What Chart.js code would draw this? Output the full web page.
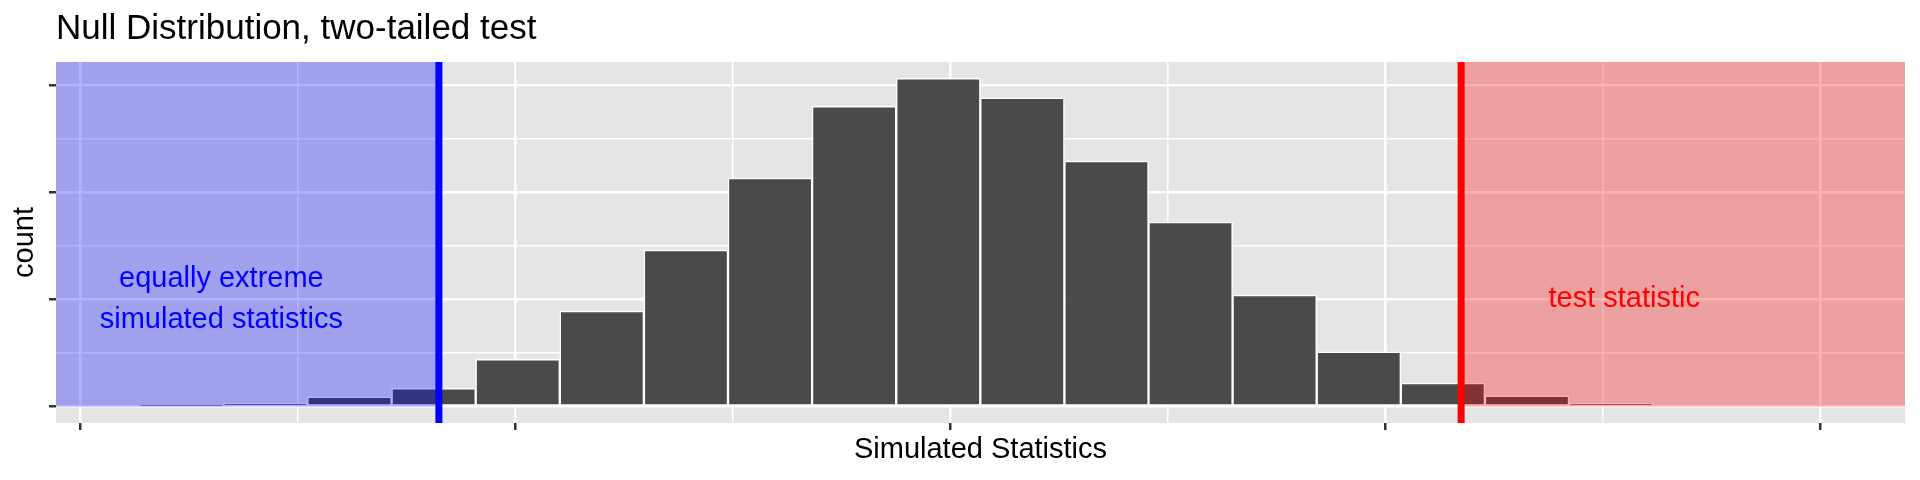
<!DOCTYPE html>
<html>
<head>
<meta charset="utf-8">
<title>Null Distribution, two-tailed test</title>
<script src="https://cdn.jsdelivr.net/npm/chart.js@4.4.1/dist/chart.umd.min.js"></script>
<style>
  html, body { margin: 0; padding: 0; background: #ffffff; }
  #nullChart { display: block; }
</style>
</head>
<body>
<canvas id="nullChart" width="1920" height="480"></canvas>
<script>
// histogram bins (bin centre -> count)
const binCenters = [
  -0.1767, -0.15737, -0.13804, -0.1187, -0.09937, -0.08004, -0.0607, -0.04137, -0.02204,
  -0.0027, 0.01663, 0.03597, 0.0553, 0.07463, 0.09397, 0.1133, 0.13263, 0.15197,
];
const binCounts = [1, 3, 9, 17, 44, 89, 146, 213, 280, 306, 288, 229, 172, 104, 51, 22, 10, 3];

// observed statistic, shaded on both sides for the two-tailed test
const obsStat = 0.1175;

// axis ranges and ticks (the plot prints tick marks but no tick labels)
const xRange = [-0.20552, 0.21954];
const yRange = [-15.3, 321.3];
const xMajorTicks = [-0.2, -0.1, 0, 0.1, 0.2];
const xMinorTicks = [-0.15, -0.05, 0.05, 0.15];
const yMajorTicks = [0, 100, 200, 300];
const yMinorTicks = [50, 150, 250];

// texts
const chartTitle = "Null Distribution, two-tailed test";
const xTitle = "Simulated Statistics";
const yTitle = "count";
const leftLabel = ["equally extreme", "simulated statistics"];
const rightLabel = ["test statistic"];
const labelY = 100;
const leftLabelX = -0.1675;
const rightLabelX = 0.155;

const FONT = "'Liberation Sans', Arial, Helvetica, sans-serif";

function isMajor(ctx, majors) {
  return ctx.tick && majors.some((v) => Math.abs(v - ctx.tick.value) < 1e-9);
}

function drawLines(ctx, lines, x, y, color) {
  ctx.fillStyle = color;
  ctx.textAlign = "center";
  ctx.textBaseline = "middle";
  const step = 41;
  const start = y - ((lines.length - 1) * step) / 2;
  lines.forEach((t, i) => ctx.fillText(t, x, start + i * step));
}

// grey panel, p-value shading, obs lines and text labels
const panelPlugin = {
  id: "panel",
  beforeDraw(chart) {
    const { ctx, chartArea: a } = chart;
    ctx.save();
    ctx.fillStyle = "#ffffff";
    ctx.fillRect(0, 0, chart.width, chart.height);
    ctx.fillStyle = "#e5e5e5";
    ctx.fillRect(a.left, a.top, a.right - a.left, a.bottom - a.top);
    ctx.restore();
  },
  afterDatasetsDraw(chart) {
    const { ctx, chartArea: a } = chart;
    const x = chart.scales.x;
    const y = chart.scales.y;
    const lo = x.getPixelForValue(-obsStat);
    const hi = x.getPixelForValue(obsStat);
    const zero = y.getPixelForValue(0);
    ctx.save();
    ctx.fillStyle = "rgba(0, 0, 255, 0.3)";
    ctx.fillRect(a.left, a.top, lo - a.left, zero - a.top);
    ctx.fillStyle = "rgba(255, 0, 0, 0.3)";
    ctx.fillRect(hi, a.top, a.right - hi, zero - a.top);

    ctx.lineWidth = 7;
    ctx.strokeStyle = "#0000ff";
    ctx.beginPath();
    ctx.moveTo(lo, a.top);
    ctx.lineTo(lo, a.bottom);
    ctx.stroke();
    ctx.strokeStyle = "#ff0000";
    ctx.beginPath();
    ctx.moveTo(hi, a.top);
    ctx.lineTo(hi, a.bottom);
    ctx.stroke();

    ctx.font = "29px " + FONT;
    drawLines(ctx, leftLabel, x.getPixelForValue(leftLabelX), y.getPixelForValue(labelY), "#0000ff");
    drawLines(ctx, rightLabel, x.getPixelForValue(rightLabelX), y.getPixelForValue(labelY), "#ff0000");
    ctx.restore();
  },
  afterDraw(chart) {
    const { ctx, chartArea: a } = chart;
    ctx.save();
    ctx.font = "35px " + FONT;
    ctx.fillStyle = "#000000";
    ctx.textAlign = "left";
    ctx.textBaseline = "alphabetic";
    ctx.fillText(chartTitle, a.left, 39);
    ctx.restore();
  },
};

const nullCtx = document.getElementById("nullChart").getContext("2d");
new Chart(nullCtx, {
  type: "bar",
  data: {
    datasets: [
      {
        label: "count",
        data: binCenters.map((c, i) => ({ x: c, y: binCounts[i] })),
        backgroundColor: "#4a4a4a",
        borderColor: "#ffffff",
        borderWidth: 1.5,
        borderSkipped: false,
        barPercentage: 1,
        categoryPercentage: 1,
      },
    ],
  },
  options: {
    responsive: false,
    devicePixelRatio: 1,
    animation: false,
    layout: { padding: { top: 62, right: 15, bottom: 0, left: 0 } },
    plugins: {
      legend: { display: false },
      title: { display: false },
      tooltip: { enabled: false },
    },
    scales: {
      x: {
        type: "linear",
        min: xRange[0],
        max: xRange[1],
        offset: false,
        afterBuildTicks: (scale) => {
          scale.ticks = [...xMajorTicks, ...xMinorTicks].sort((a, b) => a - b).map((v) => ({ value: v }));
        },
        afterFit: (scale) => { scale.height = 57; },
        ticks: { display: false },
        border: { display: false },
        grid: {
          offset: false,
          color: "#ffffff",
          lineWidth: (c) => (isMajor(c, xMajorTicks) ? 2.5 : 1.5),
          drawTicks: true,
          tickLength: 7,
          tickWidth: 2.5,
          tickColor: (c) => (isMajor(c, xMajorTicks) ? "#333333" : "rgba(0,0,0,0)"),
        },
        title: {
          display: true,
          text: xTitle,
          color: "#000000",
          font: { family: FONT, size: 29 },
          padding: { top: 0, bottom: 12.6 },
        },
      },
      y: {
        type: "linear",
        min: yRange[0],
        max: yRange[1],
        afterBuildTicks: (scale) => {
          scale.ticks = [...yMajorTicks, ...yMinorTicks].sort((a, b) => a - b).map((v) => ({ value: v }));
        },
        afterFit: (scale) => { scale.width = 56; },
        ticks: { display: false },
        border: { display: false },
        grid: {
          color: "#ffffff",
          lineWidth: (c) => (isMajor(c, yMajorTicks) ? 2.5 : 1.5),
          drawTicks: true,
          tickLength: 7,
          tickWidth: 2.5,
          tickColor: (c) => (isMajor(c, yMajorTicks) ? "#333333" : "rgba(0,0,0,0)"),
        },
        title: {
          display: true,
          text: yTitle,
          color: "#000000",
          font: { family: FONT, size: 29 },
          padding: { top: 7.6, bottom: 0 },
        },
      },
    },
  },
  plugins: [panelPlugin],
});
</script>
</body>
</html>
